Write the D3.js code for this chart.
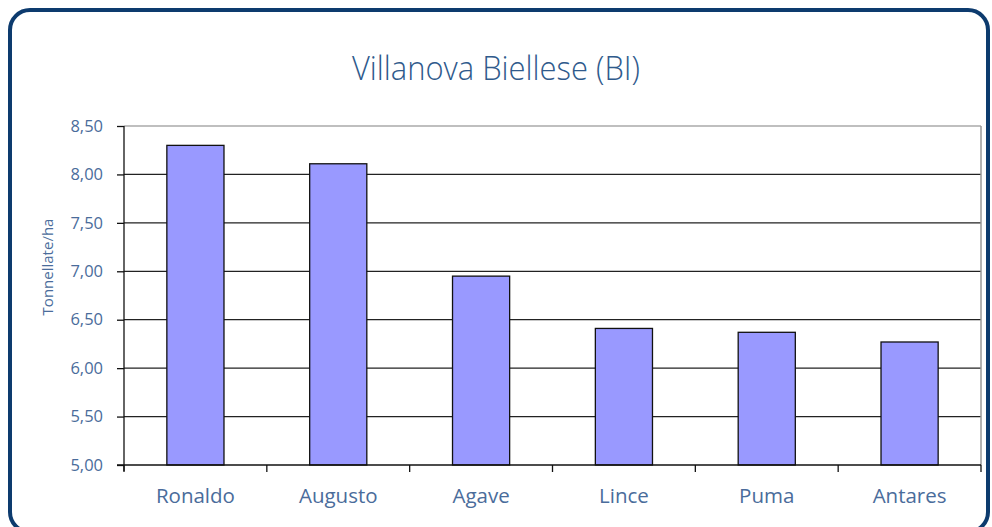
<!DOCTYPE html>
<html>
<head>
<meta charset="utf-8">
<script src="https://cdn.jsdelivr.net/npm/d3@7"></script>
<style>
  body { margin: 0; background: #fff; }
  text { font-family: "Open Sans", sans-serif; }
</style>
</head>
<body>
<script>
// data
const categories = ["Ronaldo", "Augusto", "Agave", "Lince", "Puma", "Antares"];
const values = [8.30, 8.11, 6.95, 6.41, 6.37, 6.27];
const yTicks = [5.0, 5.5, 6.0, 6.5, 7.0, 7.5, 8.0, 8.5];

const w = 992;
const h = 527;
const plot = { left: 124, right: 981, top: 126, bottom: 465 };
const textColor = "#4a6c9b";

const itFormat = d3.formatLocale({ decimal: ",", thousands: ".", grouping: [3], currency: ["", "€"] }).format(".2f");

const svg = d3.select("body").append("svg").attr("width", w).attr("height", h);

// frame
svg.append("rect")
  .attr("x", 10).attr("y", 10)
  .attr("width", 978).attr("height", 522)
  .attr("rx", 20).attr("ry", 20)
  .attr("fill", "#fff")
  .attr("stroke", "#0d3b6e")
  .attr("stroke-width", 4);

// title
svg.append("text")
  .attr("x", 496).attr("y", 80)
  .attr("text-anchor", "middle")
  .attr("font-size", 33)
  .attr("font-weight", 300)
  .attr("textLength", 288)
  .attr("lengthAdjust", "spacingAndGlyphs")
  .attr("fill", "#2f5a8c")
  .text("Villanova Biellese (BI)");

const x = d3.scaleBand()
  .domain(categories)
  .range([plot.left, plot.right])
  .paddingInner(0.6)
  .paddingOuter(0.3);

const y = d3.scaleLinear()
  .domain([5, 8.5])
  .range([plot.bottom, plot.top]);

// gridlines
svg.append("g")
  .selectAll("line")
  .data(yTicks.slice(1))
  .join("line")
  .attr("x1", plot.left).attr("x2", plot.right)
  .attr("y1", d => y(d)).attr("y2", d => y(d))
  .attr("stroke", d => d === 8.5 ? "#808080" : "#222")
  .attr("stroke-width", 1.2);

// right border of plot area
svg.append("line")
  .attr("x1", plot.right).attr("x2", plot.right)
  .attr("y1", plot.top).attr("y2", plot.bottom)
  .attr("stroke", "#999")
  .attr("stroke-width", 1.5);

// bars
svg.append("g")
  .selectAll("rect")
  .data(values)
  .join("rect")
  .attr("x", (d, i) => x(categories[i]))
  .attr("y", d => y(d))
  .attr("width", x.bandwidth())
  .attr("height", d => y(5) - y(d))
  .attr("fill", "#9999ff")
  .attr("stroke", "#111")
  .attr("stroke-width", 1.3);

// y axis
const yAxis = svg.append("g")
  .attr("transform", `translate(${plot.left},0)`)
  .call(d3.axisLeft(y).tickValues(yTicks).tickFormat(itFormat).tickSize(7).tickPadding(14));
yAxis.select(".domain").attr("stroke", "#111").attr("stroke-width", 1.3).attr("d", `M0,${plot.top}V${plot.bottom + 6}`);
yAxis.selectAll(".tick line").attr("stroke", "#111").attr("stroke-width", 1.3);
yAxis.selectAll(".tick text")
  .attr("font-family", "Open Sans, sans-serif")
  .attr("font-size", 16.5)
  .attr("fill", textColor);

// x axis
const step = x.step();
const boundaries = categories.map(c => x(c) - step * 0.3).concat([plot.right]);
svg.append("line")
  .attr("x1", plot.left - 7).attr("x2", plot.right)
  .attr("y1", plot.bottom).attr("y2", plot.bottom)
  .attr("stroke", "#111").attr("stroke-width", 1.3);
svg.append("g")
  .selectAll("line")
  .data(boundaries)
  .join("line")
  .attr("x1", d => d).attr("x2", d => d)
  .attr("y1", plot.bottom).attr("y2", plot.bottom + 7)
  .attr("stroke", "#111").attr("stroke-width", 1.3);

svg.append("g")
  .selectAll("text")
  .data(categories)
  .join("text")
  .attr("x", d => x(d) + x.bandwidth() / 2)
  .attr("y", 503)
  .attr("text-anchor", "middle")
  .attr("font-size", 20.5)
  .attr("fill", textColor)
  .text(d => d);

// y axis title
svg.append("text")
  .attr("transform", "translate(53,267) rotate(-90)")
  .attr("text-anchor", "middle")
  .attr("font-size", 15)
  .attr("fill", textColor)
  .text("Tonnellate/ha");
</script>
</body>
</html>
